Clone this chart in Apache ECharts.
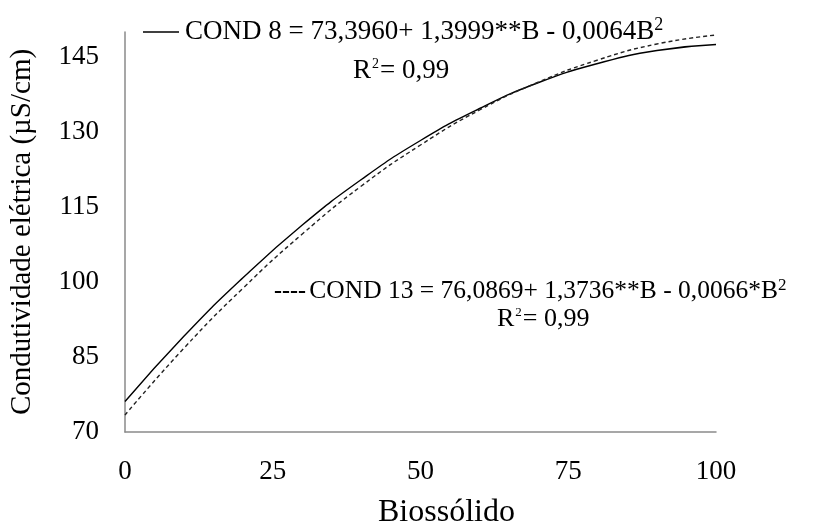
<!DOCTYPE html>
<html>
<head>
<meta charset="utf-8">
<script src="https://cdn.jsdelivr.net/npm/echarts@6/dist/echarts.min.js"></script>
<style>html,body{margin:0;padding:0;background:#fff;}#c{width:825px;height:522px;}</style>
</head>
<body>
<div id="c"></div>
<script>
// Values
const biossolido = [0, 10, 20, 30, 40, 50, 60, 70, 80, 90, 100];
const condSolid  = [76.1, 89.2, 100.9, 111.4, 120.5, 128.3, 134.7, 139.9, 143.7, 146.3, 147.5];
const condDashed = [73.4, 86.8, 98.8, 109.6, 119.2, 127.4, 134.4, 140.0, 144.4, 147.6, 149.4];
const xTicks = [0, 25, 50, 75, 100];
const yTicks = [70, 85, 100, 115, 130, 145];

const FONT = '"Liberation Serif", "DejaVu Serif", serif';
const chart = echarts.init(document.getElementById('c'), null, {renderer: 'canvas'});
const pairs = (xs, ys) => xs.map((x, i) => [x, ys[i]]);

chart.setOption({
  animation: false,
  backgroundColor: '#fff',
  grid: {left: 125, right: 109, top: 32, bottom: 90, containLabel: false},
  xAxis: {
    type: 'value', min: xTicks[0], max: xTicks[xTicks.length - 1], interval: 25,
    axisLine: {show: true, lineStyle: {color: '#8a8a8a', width: 1.5}},
    axisTick: {show: false}, splitLine: {show: false},
    axisLabel: {color: '#000', fontFamily: FONT, fontSize: 27, margin: 26}
  },
  yAxis: {
    type: 'value', min: yTicks[0], max: 150, interval: 15,
    name: 'Condutividade elétrica (µS/cm)', nameLocation: 'middle', nameGap: 88,
    nameTextStyle: {color: '#000', fontFamily: FONT, fontSize: 29},
    axisLine: {show: true, lineStyle: {color: '#8a8a8a', width: 1.5}},
    axisTick: {show: false}, splitLine: {show: false},
    axisLabel: {color: '#000', fontFamily: FONT, fontSize: 27, margin: 26, showMaxLabel: false}
  },
  series: [
    {type: 'line', data: pairs(biossolido, condSolid), smooth: true, symbol: 'none',
     lineStyle: {color: '#000', width: 1.4}},
    {type: 'line', data: pairs(biossolido, condDashed), smooth: true, symbol: 'none',
     lineStyle: {color: '#222', width: 1.4, type: [4, 3]}}
  ],
  graphic: [
    {type: 'line', shape: {x1: 143, y1: 32, x2: 179, y2: 32}, style: {stroke: '#000', lineWidth: 1.3}},
    {type: 'text', left: 185, top: 16, style: {
      text: '{m|COND 8 = 73,3960+ 1,3999**B - 0,0064B}{s|2}',
      rich: {m: {fontFamily: FONT, fontSize: 27, fill: '#000', lineHeight: 30},
             s: {fontFamily: FONT, fontSize: 18, fill: '#000', lineHeight: 30, padding: [0, 0, 13, 0]}}
    }},
    {type: 'text', left: 353, top: 57, style: {
      text: '{m|R}{s|2}{m|= 0,99}',
      rich: {m: {fontFamily: FONT, fontSize: 27, fill: '#000', lineHeight: 30},
             s: {fontFamily: FONT, fontSize: 14, fill: '#000', lineHeight: 30, padding: [0, 1, 12, 1]}}
    }},
    {type: 'text', left: 274, top: 277, style: {
      text: '{b|----} {m|COND 13 = 76,0869+ 1,3736**B - 0,0066*B}{s|2}',
      rich: {b: {fontFamily: FONT, fontSize: 24, fontWeight: 'bold', fill: '#000', lineHeight: 30},
             m: {fontFamily: FONT, fontSize: 25.5, fill: '#000', lineHeight: 30},
             s: {fontFamily: FONT, fontSize: 17, fill: '#000', lineHeight: 30, padding: [0, 0, 12, 0]}}
    }},
    {type: 'text', left: 497, top: 306, style: {
      text: '{m|R}{s|2}{m|= 0,99}',
      rich: {m: {fontFamily: FONT, fontSize: 26, fill: '#000', lineHeight: 30},
             s: {fontFamily: FONT, fontSize: 13, fill: '#000', lineHeight: 30, padding: [0, 1, 12, 1]}}
    }},
    {type: 'text', left: 378, top: 497, style: {
      text: 'Biossólido', fontFamily: FONT, fontSize: 32, fill: '#000'
    }}
  ]
});
</script>
</body>
</html>
